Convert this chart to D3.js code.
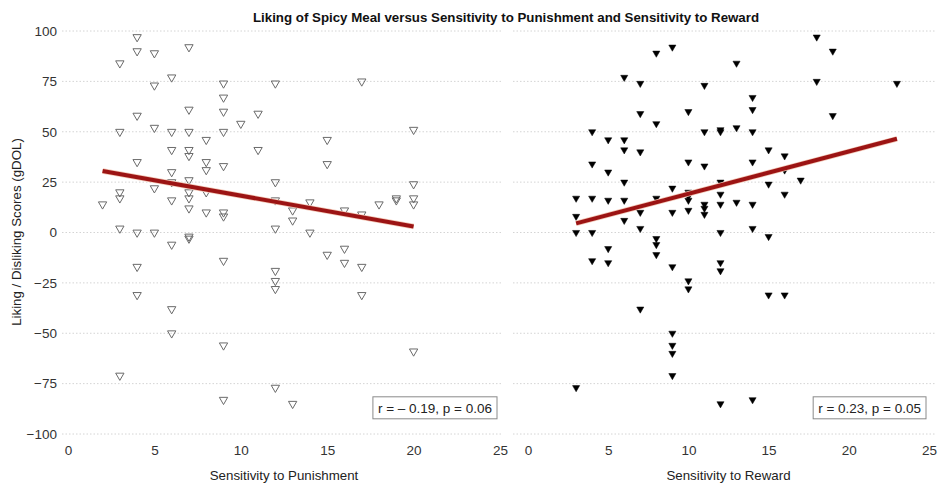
<!DOCTYPE html>
<html>
<head>
<meta charset="utf-8">
<script src="https://cdn.jsdelivr.net/npm/d3@7"></script>
<style>
  body { margin: 0; background: #fff; }
  svg { display: block; font-family: "Liberation Sans", Arial, sans-serif; }
</style>
</head>
<body>
<div class="chart"></div>
<script>
// values: [score, gDOL]
const punishment = [
  [2,14],
  [3,84],[3,50],[3,20],[3,17],[3,2],[3,-71],
  [4,97],[4,90],[4,58],[4,35],[4,0],[4,-17],[4,-31],
  [5,89],[5,73],[5,52],[5,22],[5,0],
  [6,77],[6,50],[6,41],[6,30],[6,25],[6,16],[6,-6],[6,-38],[6,-50],
  [7,92],[7,61],[7,50],[7,41],[7,38],[7,26],[7,20],[7,17],[7,12],[7,-2],[7,-3],
  [8,46],[8,35],[8,31],[8,20],[8,10],
  [9,74],[9,67],[9,60],[9,50],[9,33],[9,10],[9,8],[9,-14],[9,-56],[9,-83],
  [10,54],
  [11,59],[11,41],
  [12,74],[12,25],[12,16],[12,2],[12,-19],[12,-24],[12,-28],[12,-77],
  [13,11],[13,6],[13,-85],
  [14,15],[14,0],
  [15,46],[15,34],[15,-11],
  [16,11],[16,-8],[16,-15],
  [17,75],[17,9],[17,-17],[17,-31],
  [18,14],
  [19,17],[19,16],
  [20,51],[20,24],[20,17],[20,14],[20,-59]
];

const reward = [
  [3,17],[3,8],[3,0],[3,-77],
  [4,50],[4,34],[4,17],[4,0],[4,-14],
  [5,46],[5,30],[5,16],[5,-8],[5,-15],
  [6,77],[6,46],[6,41],[6,25],[6,16],[6,6],
  [7,74],[7,59],[7,40],[7,10],[7,2],[7,-38],
  [8,89],[8,54],[8,17],[8,-3],[8,-6],[8,-11],
  [9,92],[9,22],[9,10],[9,-17],[9,-50],[9,-56],[9,-60],[9,-71],
  [10,60],[10,35],[10,20],[10,18],[10,16],[10,11],[10,-24],[10,-28],
  [11,73],[11,50],[11,33],[11,14],[11,12],[11,9],
  [12,51],[12,50],[12,25],[12,19],[12,14],[12,0],[12,-15],[12,-19],[12,-85],
  [13,84],[13,52],[13,15],
  [14,67],[14,61],[14,50],[14,35],[14,14],[14,2],[14,-83],
  [15,41],[15,24],[15,-2],[15,-31],
  [16,38],[16,31],[16,19],[16,-31],
  [17,26],
  [18,97],[18,75],
  [19,90],[19,58],
  [23,74]
];

// fitted lines, end points
const fitPunishment = [[2,30.5],[20,3]];
const fitReward = [[3,4.5],[23,46.5]];

const xTicks = [0, 5, 10, 15, 20, 25];
const yTicks = [-100, -75, -50, -25, 0, 25, 50, 75, 100];
const statPunishment = 'r = \u2013 0.19, p = 0.06';
const statReward = 'r = 0.23, p = 0.05';

const width = 939, height = 487;

const svg = d3.select('.chart').append('svg')
    .attr('width', width)
    .attr('height', height);

const yScale = d3.scaleLinear()
    .domain([-100, 100])
    .range([434, 31]);

const panels = [
  {data: punishment, fit: fitPunishment, stat: statPunishment, label: 'Sensitivity to Punishment',
   range: [68, 500], grid: [62, 503], open: true},
  {data: reward, fit: fitReward, stat: statReward, label: 'Sensitivity to Reward',
   range: [528, 929], grid: [513, 936], open: false}
];

panels.forEach(p => {
  const xScale = d3.scaleLinear().domain([0, 25]).range(p.range);
  const g = svg.append('g');

  // horizontal dotted grid
  g.selectAll('.grid')
    .data(yTicks)
    .enter()
    .append('line')
    .attr('class', 'grid')
    .attr('x1', p.grid[0])
    .attr('x2', p.grid[1])
    .attr('y1', d => yScale(d))
    .attr('y2', d => yScale(d))
    .attr('stroke', '#d4d4d4')
    .attr('stroke-width', 1)
    .attr('stroke-dasharray', '1.5,2');

  // x axis, no domain line or tick marks
  const xAxis = d3.axisBottom(xScale).tickValues(xTicks).tickSize(0).tickPadding(0);
  const xg = g.append('g')
    .attr('transform', 'translate(0,445)')
    .call(xAxis);
  xg.select('.domain').remove();
  xg.selectAll('text')
    .attr('font-size', 13.5)
    .attr('fill', '#333')
    .attr('font-family', '"Liberation Sans", Arial, sans-serif');

  g.append('text')
    .attr('x', (p.range[0] + p.range[1]) / 2)
    .attr('y', 480)
    .attr('text-anchor', 'middle')
    .attr('font-size', 13.3)
    .attr('fill', '#222')
    .text(p.label);

  const sym = d3.symbol().type(d3.symbolTriangle).size(p.open ? 30 : 22);
  g.selectAll('.pt')
    .data(p.data)
    .enter()
    .append('path')
    .attr('class', 'pt')
    .attr('d', sym)
    .attr('transform', d => `translate(${xScale(d[0])},${yScale(d[1])}) rotate(180)`)
    .attr('fill', p.open ? 'none' : '#000')
    .attr('stroke', p.open ? '#6a6a6a' : '#000')
    .attr('stroke-width', p.open ? 1 : 0.5);

  const line = d3.line().x(d => xScale(d[0])).y(d => yScale(d[1]));
  g.append('path')
    .datum(p.fit)
    .attr('d', line)
    .attr('fill', 'none')
    .attr('stroke', '#f3c9b8')
    .attr('stroke-width', 5.5);
  g.append('path')
    .datum(p.fit)
    .attr('d', line)
    .attr('fill', 'none')
    .attr('stroke', '#9c1414')
    .attr('stroke-width', 4);

  // stat box
  const box = g.append('g');
  const rect = box.append('rect');
  const t = box.append('text')
    .attr('y', yScale(-87) + 5)
    .attr('font-size', 13.5)
    .attr('fill', '#222')
    .text(p.stat);
  const w = t.node().getComputedTextLength();
  const bx = p.range[1] - 3 - w - 10;
  t.attr('x', bx + 5);
  rect
    .attr('x', bx)
    .attr('y', yScale(-87) - 11)
    .attr('width', w + 10)
    .attr('height', 22)
    .attr('fill', '#fff')
    .attr('stroke', '#8a8a8a')
    .attr('stroke-width', 1);
});

// y axis (shared, left side only)
const yAxis = d3.axisLeft(yScale).tickValues(yTicks).tickSize(0).tickPadding(0);
const yg = svg.append('g')
  .attr('transform', 'translate(57,0)')
  .call(yAxis);
yg.select('.domain').remove();
yg.selectAll('text')
  .attr('font-size', 13.5)
  .attr('fill', '#333')
  .attr('font-family', '"Liberation Sans", Arial, sans-serif')
  .text(d => d < 0 ? '\u2212' + Math.abs(d) : d);

svg.append('text')
  .attr('transform', 'translate(21,232) rotate(-90)')
  .attr('text-anchor', 'middle')
  .attr('font-size', 13.3)
  .attr('fill', '#222')
  .text('Liking / Disliking Scores (gDOL)');

svg.append('text')
  .attr('x', 506)
  .attr('y', 22)
  .attr('text-anchor', 'middle')
  .attr('font-size', 13.3)
  .attr('font-weight', 'bold')
  .attr('fill', '#111')
  .text('Liking of Spicy Meal versus Sensitivity to Punishment and Sensitivity to Reward');
</script>
</body>
</html>
